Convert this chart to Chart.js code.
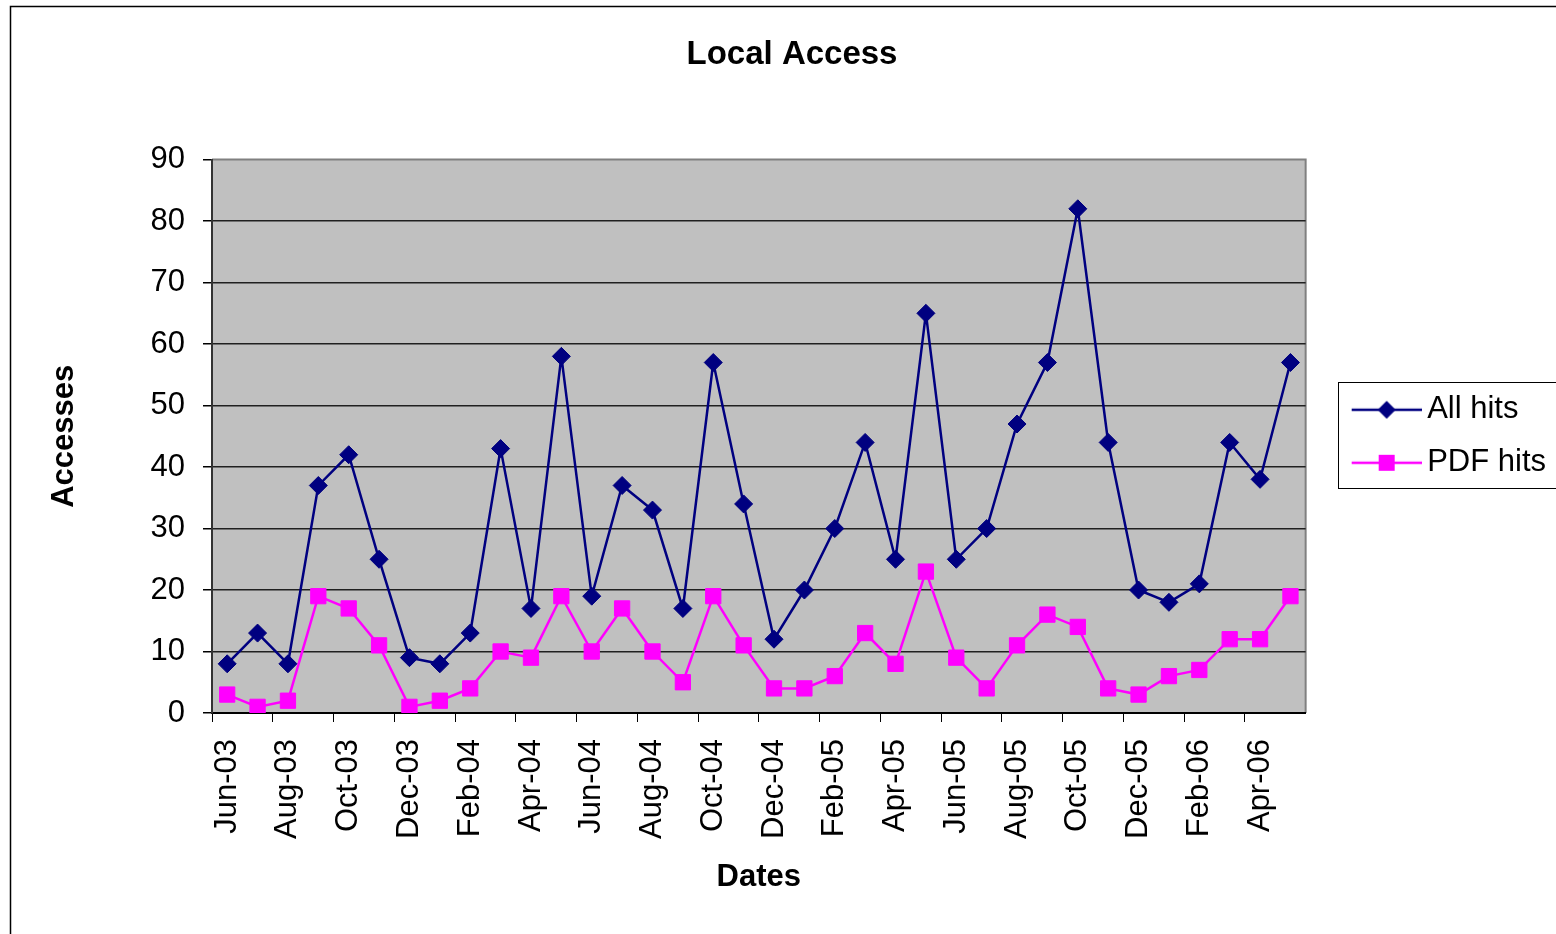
<!DOCTYPE html>
<html>
<head>
<meta charset="utf-8">
<title>Local Access</title>
<script src="https://cdn.jsdelivr.net/npm/chart.js@4/dist/chart.umd.min.js"></script>
<style>
  html, body { margin:0; padding:0; background:#fff; overflow:hidden; }
  #wrap { width:1556px; height:934px; }
</style>
</head>
<body>
<div id="wrap"><canvas id="chart" width="1556" height="934"></canvas></div>
<script>
// data
const months = ['Jun-03','Jul-03','Aug-03','Sep-03','Oct-03','Nov-03','Dec-03','Jan-04','Feb-04','Mar-04','Apr-04','May-04',
                'Jun-04','Jul-04','Aug-04','Sep-04','Oct-04','Nov-04','Dec-04','Jan-05','Feb-05','Mar-05','Apr-05','May-05',
                'Jun-05','Jul-05','Aug-05','Sep-05','Oct-05','Nov-05','Dec-05','Jan-06','Feb-06','Mar-06','Apr-06','May-06'];
const allHits = [8,13,8,37,42,25,9,8,13,43,17,58,19,37,33,17,57,34,12,20,30,44,25,65,25,30,47,57,82,44,20,18,21,44,38,57];
const pdfHits = [3,1,2,19,17,11,1,2,4,10,9,19,10,17,10,5,19,11,4,4,6,13,8,23,9,4,11,16,14,4,3,6,7,12,12,19];
const yTicks = { min: 0, max: 90, step: 10 };

const FONT = '"Liberation Sans", Arial, sans-serif';
const NAVY = '#000080', MAGENTA = '#FF00FF';

// legend swatch: line with marker in the middle (Excel style)
function swatch(color, shape){
  const c = document.createElement('canvas');
  c.width = 104; c.height = 24;
  const g = c.getContext('2d');
  g.strokeStyle = color; g.lineWidth = 2.5;
  g.beginPath(); g.moveTo(34, 12); g.lineTo(104, 12); g.stroke();
  g.fillStyle = color;
  g.beginPath();
  if (shape === 'diamond') {
    g.moveTo(69, 3); g.lineTo(78, 12); g.lineTo(69, 21); g.lineTo(60, 12); g.closePath();
  } else {
    g.rect(61, 4, 16, 16);
  }
  g.fill();
  return c;
}
const swatches = [swatch(NAVY, 'diamond'), swatch(MAGENTA, 'square')];

const frame = {
  id: 'frame',
  beforeDraw(chart){
    const {ctx, chartArea:a} = chart;
    ctx.save();
    ctx.fillStyle = '#fff';
    ctx.fillRect(0, 0, chart.width, chart.height);
    ctx.strokeStyle = '#000'; ctx.lineWidth = 1.5;
    ctx.strokeRect(10.5, 6.5, 1700, 1100);
    ctx.fillStyle = '#C0C0C0';
    ctx.fillRect(a.left, a.top, a.right - a.left, a.bottom - a.top);
    ctx.strokeStyle = '#808080'; ctx.lineWidth = 2;
    ctx.beginPath();
    ctx.moveTo(a.left, a.top); ctx.lineTo(a.right, a.top); ctx.lineTo(a.right, a.bottom);
    ctx.stroke();
    ctx.restore();
  },
  afterDraw(chart){
    const hb = chart.legend && chart.legend.legendHitBoxes;
    if (!hb || !hb.length) return;
    const ctx = chart.ctx;
    const last = hb[hb.length - 1];
    const top = hb[0].top - 12, bottom = last.top + last.height + 10;
    const left = hb[0].left + 10;
    ctx.save();
    ctx.strokeStyle = '#000'; ctx.lineWidth = 1;
    ctx.strokeRect(Math.round(left) + 0.5, Math.round(top) + 0.5, chart.width - left + 5, bottom - top);
    ctx.restore();
  }
};

new Chart(document.getElementById('chart'), {
  type: 'line',
  data: {
    labels: months,
    datasets: [
      { label: 'All hits', data: allHits, borderColor: NAVY, backgroundColor: NAVY, borderWidth: 2.5,
        pointStyle: 'rectRot', pointRadius: 9, pointBorderWidth: 1, pointBackgroundColor: NAVY, pointBorderColor: NAVY, tension: 0 },
      { label: 'PDF hits', data: pdfHits, borderColor: MAGENTA, backgroundColor: MAGENTA, borderWidth: 2.5,
        pointStyle: 'rect', pointRadius: 10.8, pointBorderWidth: 1, pointBackgroundColor: MAGENTA, pointBorderColor: MAGENTA, tension: 0 }
    ]
  },
  options: {
    responsive: false,
    animation: false,
    devicePixelRatio: 1,
    layout: { padding: { left: 28, right: 0, top: 0, bottom: 0 } },
    plugins: {
      title: { display: true, text: 'Local Access', color: '#000',
        font: { family: FONT, size: 33, weight: 'bold' }, padding: { top: 35, bottom: 85 } },
      legend: {
        position: 'right', fullSize: false, align: 'center',
        labels: {
          usePointStyle: true, pointStyleWidth: 84, padding: 22, color: '#000',
          font: { family: FONT, size: 31 },
          generateLabels(chart){
            const items = Chart.defaults.plugins.legend.labels.generateLabels(chart);
            items.forEach((it, i) => { it.pointStyle = swatches[i]; });
            return items;
          }
        }
      },
      tooltip: { enabled: false }
    },
    scales: {
      x: {
        offset: true,
        grid: { display: true, drawOnChartArea: false, drawTicks: true, tickLength: 9, offset: true,
          tickColor: c => (c.index % 2 === 0 ? '#000' : 'rgba(0,0,0,0)'), tickWidth: 1 },
        border: { display: true, color: '#000', width: 2 },
        ticks: { autoSkip: false, maxRotation: 90, minRotation: 90, padding: 17, color: '#000',
          font: { family: FONT, size: 31 },
          callback: (v, i) => (i % 2 === 0 ? months[i] : '') },
        title: { display: true, text: 'Dates', color: '#000',
          font: { family: FONT, size: 31, weight: 'bold' }, padding: { top: 0, bottom: 38 } },
        afterFit: s => { s.height = 221; }
      },
      y: {
        min: yTicks.min, max: yTicks.max,
        grid: { color: c => (c.tick && c.tick.value === yTicks.max ? 'rgba(0,0,0,0)' : '#202020'), lineWidth: 1.5,
          drawTicks: true, tickLength: 9, tickColor: '#000' },
        border: { display: true, color: '#333', width: 2 },
        ticks: { stepSize: yTicks.step, padding: 18, color: '#000', font: { family: FONT, size: 31 } },
        title: { display: true, text: 'Accesses', color: '#000',
          font: { family: FONT, size: 31, weight: 'bold' }, padding: { top: 18, bottom: 0 } },
        afterFit: s => { s.width = 184; }
      }
    }
  },
  plugins: [frame]
});
</script>
</body>
</html>
